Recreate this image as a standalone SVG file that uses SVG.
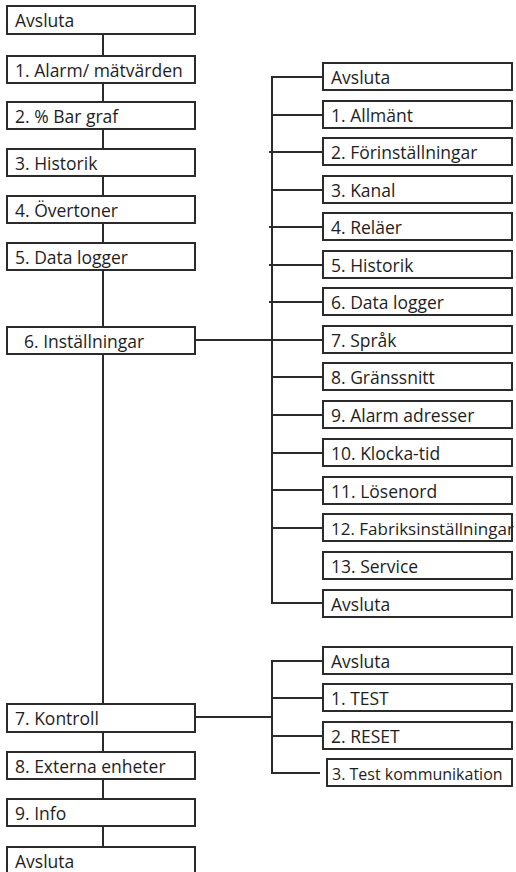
<svg xmlns="http://www.w3.org/2000/svg" width="516" height="872" viewBox="0 0 516 872">
<style>
.b{fill:#fff;stroke:#2b2b2b;stroke-width:2}
.t{font-family:"Open Sans","Noto Sans",sans-serif;font-size:17.5px;fill:#1e1e1e}
.s{font-size:16px}
.f{font-size:17px}
.c{stroke:#2b2b2b;stroke-width:2;fill:none}
</style>
<rect width="516" height="872" fill="#fff"/>
<g id="connectors">
<path class="c" d="M103 34V56M103 83V102M103 129V149M103 176V196M103 223V243M103 270V327M103 354V704M103 732V752M103 779V799M103 826V847"/>
<path class="c" d="M195 340H323M323 77H272V603H323M272 115H323M269 152H323M272 190H323M269 227H323M269 265H323M269 302H323M272 377H323M272 415H323M272 453H323M272 490H323M272 528H323"/>
<path class="c" d="M195 717H272M323 661H272V773H320M272 698H323M272 736H323"/>
</g>
<g id="n_avsluta1"><rect class="b" x="7" y="6" width="188" height="28"/><text class="t" x="15" y="27">Avsluta</text></g>
<g id="n_alarm"><rect class="b" x="7" y="56" width="188" height="27"/><text class="t" x="15" y="77">1. Alarm/ mätvärden</text></g>
<g id="n_bar"><rect class="b" x="7" y="102" width="188" height="27"/><text class="t" x="15" y="123">2. % Bar graf</text></g>
<g id="n_historik"><rect class="b" x="7" y="149" width="188" height="27"/><text class="t" x="15" y="170">3. Historik</text></g>
<g id="n_overtoner"><rect class="b" x="7" y="196" width="188" height="27"/><text class="t" x="15" y="217">4. Övertoner</text></g>
<g id="n_datalogger"><rect class="b" x="7" y="243" width="188" height="27"/><text class="t" x="15" y="264">5. Data logger</text></g>
<g id="n_installningar"><rect class="b" x="7" y="327" width="188" height="27"/><text class="t" x="24" y="348">6. Inställningar</text></g>
<g id="n_kontroll"><rect class="b" x="7" y="704" width="188" height="28"/><text class="t" x="15" y="725">7. Kontroll</text></g>
<g id="n_externa"><rect class="b" x="7" y="752" width="188" height="27"/><text class="t" x="15" y="773">8. Externa enheter</text></g>
<g id="n_info"><rect class="b" x="7" y="799" width="188" height="27"/><text class="t" x="15" y="820">9. Info</text></g>
<g id="n_avsluta2"><rect class="b" x="7" y="847" width="188" height="30"/><text class="t" x="15" y="868">Avsluta</text></g>

<g id="s_avsluta1"><rect class="b" x="323" y="63" width="189" height="27"/><text class="t" x="331" y="84">Avsluta</text></g>
<g id="s_allmant"><rect class="b" x="323" y="101" width="189" height="27"/><text class="t" x="331" y="122">1. Allmänt</text></g>
<g id="s_forinst"><rect class="b" x="323" y="138" width="189" height="27"/><text class="t" x="331" y="159">2. Förinställningar</text></g>
<g id="s_kanal"><rect class="b" x="323" y="176" width="189" height="27"/><text class="t" x="331" y="197">3. Kanal</text></g>
<g id="s_relaer"><rect class="b" x="323" y="213" width="189" height="27"/><text class="t" x="331" y="234">4. Reläer</text></g>
<g id="s_historik"><rect class="b" x="323" y="251" width="189" height="27"/><text class="t" x="331" y="272">5. Historik</text></g>
<g id="s_datalogger"><rect class="b" x="323" y="288" width="189" height="27"/><text class="t" x="331" y="309">6. Data logger</text></g>
<g id="s_sprak"><rect class="b" x="323" y="326" width="189" height="27"/><text class="t" x="331" y="347">7. Språk</text></g>
<g id="s_granssnitt"><rect class="b" x="323" y="363" width="189" height="27"/><text class="t" x="331" y="384">8. Gränssnitt</text></g>
<g id="s_alarmadr"><rect class="b" x="323" y="401" width="189" height="27"/><text class="t" x="331" y="422">9. Alarm adresser</text></g>
<g id="s_klocka"><rect class="b" x="323" y="439" width="189" height="27"/><text class="t" x="331" y="460">10. Klocka-tid</text></g>
<g id="s_losenord"><rect class="b" x="323" y="477" width="189" height="27"/><text class="t" x="331" y="498">11. Lösenord</text></g>
<g id="s_fabrik"><rect class="b" x="323" y="514" width="189" height="27"/><text class="t f" x="331" y="535">12. Fabriksinställningar</text></g>
<g id="s_service"><rect class="b" x="323" y="552" width="189" height="27"/><text class="t" x="331" y="573">13. Service</text></g>
<g id="s_avsluta2"><rect class="b" x="323" y="590" width="189" height="27"/><text class="t" x="331" y="611">Avsluta</text></g>

<g id="k_avsluta"><rect class="b" x="323" y="647" width="189" height="27"/><text class="t" x="331" y="668">Avsluta</text></g>
<g id="k_test"><rect class="b" x="323" y="684" width="189" height="27"/><text class="t" x="331" y="705">1. TEST</text></g>
<g id="k_reset"><rect class="b" x="323" y="722" width="189" height="27"/><text class="t" x="331" y="743">2. RESET</text></g>
<g id="k_testkomm"><rect class="b" x="327" y="759" width="185" height="27"/><text class="t s" x="332" y="780">3. Test kommunikation</text></g>
</svg>
